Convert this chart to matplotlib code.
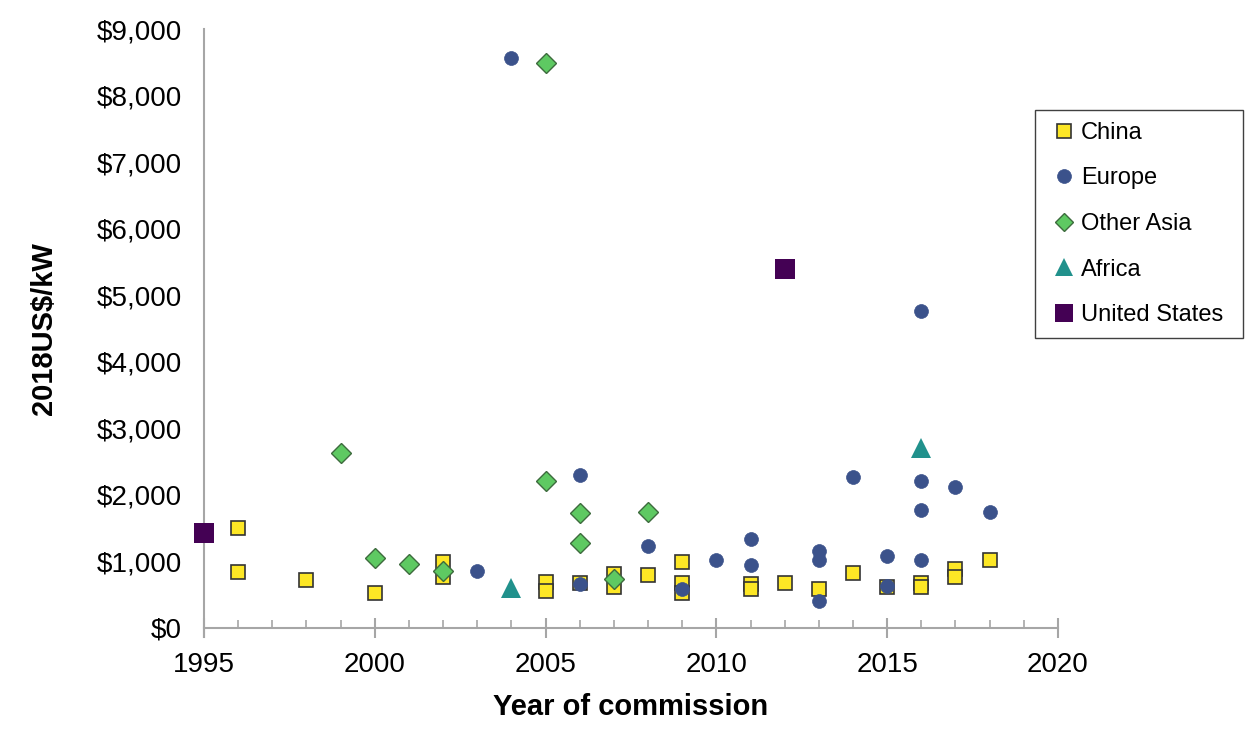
import matplotlib
matplotlib.use('Agg')
import matplotlib.pyplot as plt
from matplotlib.ticker import FuncFormatter, MultipleLocator

plt.rcParams['font.family'] = ['Liberation Sans', 'DejaVu Sans']

# data (year, 2018US$/kW)
china_year = [1996, 1996, 1998, 2000, 2002, 2002, 2005, 2005, 2006, 2007, 2007, 2008,
              2009, 2009, 2009, 2011, 2011, 2012, 2013, 2014, 2015, 2016, 2016,
              2017, 2017, 2018]
china_cost = [1500, 840, 720, 530, 990, 770, 690, 560, 680, 810, 620, 800,
              990, 680, 520, 660, 580, 670, 590, 830, 620, 680, 610,
              880, 760, 1020]

europe_year = [2003, 2004, 2006, 2006, 2008, 2009, 2010, 2011, 2011, 2013, 2013, 2013,
               2014, 2015, 2015, 2016, 2016, 2016, 2016, 2017, 2018]
europe_cost = [860, 8560, 2300, 660, 1230, 590, 1020, 1340, 950, 1160, 1020, 410,
               2270, 1080, 630, 4760, 2210, 1780, 1020, 2120, 1740]

asia_year = [1999, 2000, 2001, 2002, 2005, 2005, 2006, 2006, 2007, 2008]
asia_cost = [2630, 1050, 960, 860, 8490, 2210, 1730, 1280, 740, 1740]

africa_year = [2004, 2016]
africa_cost = [600, 2700]

us_year = [1995, 2012]
us_cost = [1430, 5390]

fig = plt.figure(figsize=(12.55, 7.35), dpi=100)
ax = fig.add_axes([0.1625, 0.1456, 0.6805, 0.8149])

ax.plot(china_year, china_cost, 's', ms=9.5, mfc='#FDE725', mec='#333333', mew=1.2,
        label='China', clip_on=False, zorder=3)
ax.plot(europe_year, europe_cost, 'o', ms=10, mfc='#3B528B', mec='#3B528B', mew=0.5,
        label='Europe', clip_on=False, zorder=4)
ax.plot(asia_year, asia_cost, 'D', ms=10, mfc='#5EC962', mec='#3D6B3D', mew=1.0,
        label='Other Asia', clip_on=False, zorder=5)
ax.plot(africa_year, africa_cost, '^', ms=15, mfc='#21918C', mec='#21918C', mew=0,
        label='Africa', clip_on=False, zorder=5)
ax.plot(us_year, us_cost, 's', ms=15, mfc='#440154', mec='#440154', mew=0,
        label='United States', clip_on=False, zorder=5)

ax.set_xlim(1995, 2020)
ax.set_ylim(0, 9000)
ax.xaxis.set_major_locator(MultipleLocator(5))
ax.xaxis.set_minor_locator(MultipleLocator(1))
ax.yaxis.set_major_locator(MultipleLocator(1000))
ax.yaxis.set_major_formatter(FuncFormatter(lambda v, p: '${:,.0f}'.format(v)))

for s in ['top', 'right']:
    ax.spines[s].set_visible(False)
for s in ['left', 'bottom']:
    ax.spines[s].set_color('#A6A6A6')
    ax.spines[s].set_linewidth(1.5)
ax.spines['left'].set_bounds(-130, 9000)

ax.tick_params(axis='x', which='major', direction='inout', length=14, width=1.5,
               color='#A6A6A6', labelsize=20, pad=10)
ax.tick_params(axis='x', which='minor', direction='in', length=5.5, width=1.2,
               color='#A6A6A6')
ax.tick_params(axis='y', which='both', length=0, labelsize=20, pad=16)

ax.set_xlabel('Year of commission', fontsize=21, fontweight='bold', labelpad=11)
ax.set_ylabel('2018US$/kW', fontsize=21, fontweight='bold', labelpad=28)

leg = ax.legend(loc='upper left', bbox_to_anchor=(1035 / 1255, 1 - 110 / 735, 208 / 1255, 0),
                bbox_transform=fig.transFigure, borderaxespad=0, fontsize=17,
                mode='expand', fancybox=False, edgecolor='#404040', framealpha=1,
                labelspacing=1.0, handlelength=1.45, handletextpad=0.0,
                borderpad=0.5)
leg.get_frame().set_linewidth(1.0)
for h, m in zip(leg.legend_handles, [9.5, 10, 9, 12.5, 12.5]):
    h.set_markersize(m)

fig.savefig('out.png', dpi=100)
